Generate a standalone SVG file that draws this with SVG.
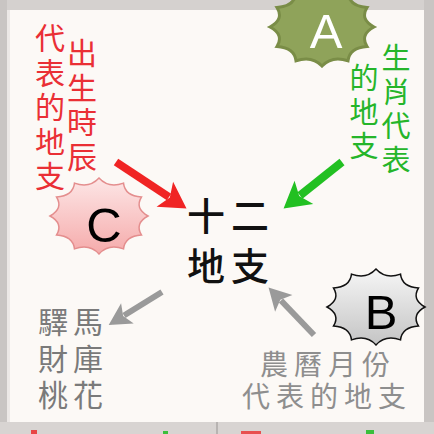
<svg xmlns="http://www.w3.org/2000/svg" width="434" height="434" viewBox="0 0 434 434">
<style>
.cjk{font-family:"Noto Sans CJK TC","Noto Sans CJK SC",sans-serif}
.v{writing-mode:vertical-rl}
.red{fill:#ea2f35;font-size:30px;letter-spacing:4.5px}
.green{fill:#25b52a;font-size:29px;letter-spacing:5.3px}
.center{fill:#111;font-size:38px;font-weight:500;letter-spacing:6px}
.gray1{fill:#7a7a7a;font-size:30px;letter-spacing:5px}
.gray2{fill:#8e8e8e;font-size:28px;letter-spacing:6px}
.letter{font-family:"Liberation Sans",Arial,sans-serif;text-anchor:middle;font-size:49px}
.star{vector-effect:non-scaling-stroke}
</style>
<defs>
<path id="star" class="star" d="M0,-1 Q0.194,-0.724 0.5,-0.866 Q0.530,-0.530 0.866,-0.5 Q0.724,-0.194 1,0 Q0.724,0.194 0.866,0.5 Q0.530,0.530 0.5,0.866 Q0.194,0.724 0,1 Q-0.194,0.724 -0.5,0.866 Q-0.530,0.530 -0.866,0.5 Q-0.724,0.194 -1,0 Q-0.724,-0.194 -0.866,-0.5 Q-0.530,-0.530 -0.5,-0.866 Q-0.194,-0.724 0,-1Z"/>
<linearGradient id="pink" x1="0" y1="0" x2="0" y2="1"><stop offset="0" stop-color="#fde6e6"/><stop offset="1" stop-color="#f5abab"/></linearGradient>
<linearGradient id="silver" x1="0" y1="0" x2="0" y2="1"><stop offset="0" stop-color="#f6f6f6"/><stop offset="1" stop-color="#c4c4c4"/></linearGradient>
<marker id="hr" markerUnits="userSpaceOnUse" orient="auto" overflow="visible" refX="0" refY="0" markerWidth="1" markerHeight="1"><path d="M-5,-15 L21,0 L-5,15 L1,0 Z" fill="#f02424"/></marker>
<marker id="hg" markerUnits="userSpaceOnUse" orient="auto" overflow="visible" refX="0" refY="0" markerWidth="1" markerHeight="1"><path d="M-5,-15 L21,0 L-5,15 L1,0 Z" fill="#22c022"/></marker>
<marker id="hk" markerUnits="userSpaceOnUse" orient="auto" overflow="visible" refX="0" refY="0" markerWidth="1" markerHeight="1"><path d="M-4,-12 L18,0 L-4,12 L1,0 Z" fill="#9a9a9a"/></marker>
</defs>
<rect width="434" height="434" fill="#fcf9f6"/>
<rect x="0" y="0" width="434" height="10" fill="#d5d1cf"/>
<rect x="0" y="0" width="7" height="434" fill="#c9c5c3"/>
<rect x="7" y="10" width="3" height="412" fill="#ece8e6"/>
<rect x="424" y="0" width="10" height="434" fill="#c9c5c3"/>
<rect x="0" y="422" width="434" height="12" fill="#d8d4d2"/>
<rect x="216" y="422" width="2" height="12" fill="#b8b4b2"/>
<rect x="31" y="430" width="6" height="4" fill="#e84545"/>
<rect x="163" y="431" width="5" height="3" fill="#3bbf3b"/>
<rect x="241" y="431" width="20" height="3" fill="#e85050"/>
<rect x="366" y="430" width="8" height="4" fill="#3bbf3b"/>

<g id="connectors" stroke-linecap="butt">
<line x1="116" y1="162" x2="169" y2="197" stroke="#f02424" stroke-width="8" marker-end="url(#hr)"/>
<line x1="342" y1="162" x2="300" y2="195.5" stroke="#22c022" stroke-width="8" marker-end="url(#hg)"/>
<line x1="162" y1="292" x2="124" y2="315.5" stroke="#9a9a9a" stroke-width="6" marker-end="url(#hk)"/>
<line x1="314" y1="335" x2="281" y2="300.5" stroke="#9a9a9a" stroke-width="6" marker-end="url(#hk)"/>
</g>

<g id="center" class="cjk center">
<text x="187" y="230">十二<tspan x="187" dy="50">地支</tspan></text>
</g>

<g id="red-label" class="cjk red v">
<text x="50" y="23">代表的地支</text>
<text x="82" y="38">出生時辰</text>
</g>

<g id="green-label" class="cjk green v">
<text x="396" y="43">生肖代表</text>
<text x="364" y="63">的地支</text>
</g>

<g id="gray-left" class="cjk gray1">
<text x="38" y="333">驛馬<tspan x="38" dy="37">財庫</tspan><tspan x="38" dy="36">桃花</tspan></text>
</g>

<g id="gray-right" class="cjk gray2">
<text x="260" y="375">農曆月份<tspan x="242" dy="32">代表的地支</tspan></text>
</g>

<g id="badge-A">
<use href="#star" transform="translate(322,27) scale(52,39)" fill="#8fa35a" stroke="#7a8d47" stroke-width="3"/>
<text class="letter" x="326" y="48" fill="#fff">A</text>
</g>
<g id="badge-C">
<use href="#star" transform="translate(99,216) scale(49,38)" fill="url(#pink)" stroke="#e48e8e" stroke-width="1.5"/>
<text class="letter" x="104" y="242" fill="#000">C</text>
</g>
<g id="badge-B">
<use href="#star" transform="translate(376,307) scale(49,38)" fill="url(#silver)" stroke="#111" stroke-width="1.5"/>
<text class="letter" x="381" y="329" fill="#000">B</text>
</g>
</svg>
